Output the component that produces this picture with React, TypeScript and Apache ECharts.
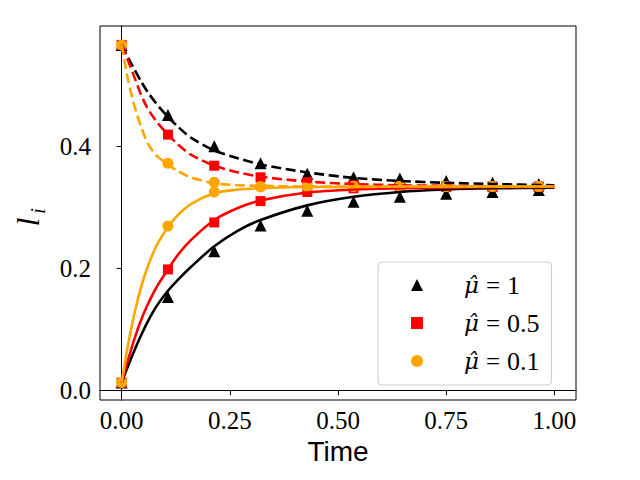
import React, { useEffect, useRef } from "react";
import * as echarts from "echarts";

const markerT = [0, 0.107, 0.214, 0.321, 0.429, 0.536, 0.643, 0.75, 0.857, 0.964];
const blackRiseMarkers = [0.0125, 0.153, 0.228, 0.27, 0.294, 0.309, 0.317, 0.322, 0.325, 0.328];
const blackDecayMarkers = [0.566, 0.451, 0.4, 0.372, 0.355, 0.349, 0.347, 0.343, 0.34, 0.338];
const redRiseMarkers = [0.0125, 0.198, 0.275, 0.31, 0.325, 0.331, 0.332, 0.333, 0.333, 0.333];
const redDecayMarkers = [0.566, 0.419, 0.368, 0.349, 0.341, 0.336, 0.335, 0.334, 0.334, 0.334];
const orangeRiseMarkers = [0.0125, 0.269, 0.325, 0.333, 0.334, 0.334, 0.334, 0.334, 0.334, 0.334];
const orangeDecayMarkers = [0.566, 0.372, 0.341, 0.334, 0.334, 0.334, 0.334, 0.334, 0.334, 0.334];

const curveT = [0, 0.015, 0.03, 0.045, 0.06, 0.08, 0.107, 0.13, 0.16, 0.214, 0.27, 0.321, 0.429, 0.536, 0.643, 0.75, 0.857, 1.0];
const blackRiseCurve = [0.0125, 0.04, 0.066, 0.09, 0.112, 0.137, 0.163, 0.181, 0.202, 0.236, 0.262, 0.279, 0.303, 0.317, 0.325, 0.329, 0.331, 0.332];
const blackDecayCurve = [0.566, 0.545, 0.525, 0.506, 0.489, 0.47, 0.448, 0.432, 0.414, 0.393, 0.38, 0.37, 0.357, 0.348, 0.343, 0.34, 0.338, 0.336];
const redRiseCurve = [0.0125, 0.05, 0.085, 0.115, 0.14, 0.168, 0.198, 0.222, 0.246, 0.279, 0.299, 0.311, 0.324, 0.329, 0.331, 0.332, 0.333, 0.333];
const redDecayCurve = [0.566, 0.54, 0.512, 0.484, 0.462, 0.441, 0.419, 0.403, 0.386, 0.368, 0.357, 0.35, 0.342, 0.338, 0.336, 0.335, 0.334, 0.334];
const orangeRiseCurve = [0.0125, 0.075, 0.127, 0.169, 0.202, 0.236, 0.267, 0.287, 0.305, 0.323, 0.329, 0.331, 0.333, 0.333, 0.334, 0.334, 0.334, 0.334];
const orangeDecayCurve = [0.566, 0.508, 0.465, 0.432, 0.405, 0.385, 0.37, 0.359, 0.349, 0.339, 0.336, 0.335, 0.334, 0.334, 0.334, 0.334, 0.334, 0.334];

const xTicks = [0, 0.25, 0.5, 0.75, 1.0];
const yTicks = [0, 0.2, 0.4];
const muNames = ["mu1", "mu05", "mu01"];
const muLabels = ["1", "0.5", "0.1"];
const xLabel = "Time";

const SERIF = "'Liberation Serif', 'DejaVu Serif', serif";
const SANS = "'Liberation Sans', 'DejaVu Sans', sans-serif";

function pairs(t: number[], v: number[]) {
  return t.map((x, i) => [x, v[i]]);
}

export default function App() {
  const ref = useRef<HTMLDivElement>(null);
  useEffect(() => {
    if (!ref.current) return;
    const chart = echarts.init(ref.current, undefined, { renderer: "svg" });
    const groups = [
      { color: "#000000", symbol: "triangle", size: 12, name: muNames[0], rise: blackRiseCurve, decay: blackDecayCurve, rm: blackRiseMarkers, dm: blackDecayMarkers },
      { color: "#ff0000", symbol: "rect", size: 10, name: muNames[1], rise: redRiseCurve, decay: redDecayCurve, rm: redRiseMarkers, dm: redDecayMarkers },
      { color: "#ffa500", symbol: "circle", size: 11, name: muNames[2], rise: orangeRiseCurve, decay: orangeDecayCurve, rm: orangeRiseMarkers, dm: orangeDecayMarkers },
    ];
    const series: any[] = [];
    groups.forEach((g) => {
      series.push({
        type: "line", name: g.name + "_rise", data: pairs(curveT, g.rise), smooth: 0.25,
        showSymbol: false, lineStyle: { color: g.color, width: 2.6 }, silent: true,
      });
      series.push({
        type: "line", name: g.name + "_decay", data: pairs(curveT, g.decay), smooth: 0.25,
        showSymbol: false, lineStyle: { color: g.color, width: 2.6, type: [10, 4.5] }, silent: true,
      });
      series.push({
        type: "scatter", name: g.name, data: pairs(markerT, g.rm), symbol: g.symbol,
        symbolSize: g.size, itemStyle: { color: g.color, opacity: 1 },
      });
      series.push({
        type: "scatter", name: g.name, data: pairs(markerT, g.dm), symbol: g.symbol,
        symbolSize: g.size, itemStyle: { color: g.color, opacity: 1 },
      });
    });
    chart.setOption({
      animation: false,
      grid: { left: 100, right: 64, top: 26, bottom: 80, show: true, borderColor: "#000", borderWidth: 1, backgroundColor: "transparent" },
      xAxis: {
        type: "value", min: -0.05, max: 1.05,
        name: xLabel, nameLocation: "middle", nameGap: 36,
        nameTextStyle: { fontFamily: SANS, fontSize: 28, color: "#000" },
        axisLine: { show: true, lineStyle: { color: "#000", width: 1 } },
        axisTick: { show: true, inside: false, length: 5, customValues: xTicks, lineStyle: { color: "#000", width: 1 } },
        axisLabel: { customValues: xTicks, margin: 8, fontFamily: SERIF, fontSize: 25, color: "#000", formatter: (v: number) => v.toFixed(2) },
        splitLine: { show: false },
      },
      yAxis: {
        type: "value", min: -0.016, max: 0.597,
        axisLine: { show: true, lineStyle: { color: "#000", width: 1 } },
        axisTick: { show: true, inside: false, length: 5, customValues: yTicks, lineStyle: { color: "#000", width: 1 } },
        axisLabel: { customValues: yTicks, margin: 9, fontFamily: SERIF, fontSize: 25, color: "#000", formatter: (v: number) => v.toFixed(1) },
        splitLine: { show: false },
      },
      legend: {
        orient: "vertical", left: 378, top: 262,
        data: [
          { name: muNames[0], icon: "triangle" },
          { name: muNames[1], icon: "rect" },
          { name: muNames[2], icon: "circle" },
        ],
        itemWidth: 12, itemHeight: 12, itemGap: 8,
        padding: [8, 12, 9, 33],
        backgroundColor: "rgba(255,255,255,0.8)",
        borderColor: "#cccccc", borderWidth: 1, borderRadius: 4,
        selectedMode: false,
        formatter: (name: string) => {
          const i = muNames.indexOf(name);
          return "{g| }{m|\u03BC\u0302}{e|=}{v|" + muLabels[i] + "}";
        },
        textStyle: {
          fontFamily: SERIF, fontSize: 25, lineHeight: 30, color: "#000",
          rich: {
            g: { width: 36 },
            m: { fontFamily: "'DejaVu Serif', serif", fontSize: 23, fontStyle: "italic", color: "#000" },
            e: { fontFamily: SERIF, fontSize: 25, color: "#000", padding: [0, 7, 0, 7] },
            v: { fontFamily: SERIF, fontSize: 26, color: "#000" },
          },
        },
      },
      graphic: [
        {
          type: "group", x: 31, y: 218, rotation: Math.PI / 2,
          children: [
            { type: "text", x: -4, y: -3, style: { text: "l", fontFamily: SERIF, fontStyle: "italic", fontSize: 32, fill: "#000", textAlign: "center", textVerticalAlign: "middle" } },
            { type: "text", x: 7, y: 7, style: { text: "i", fontFamily: SERIF, fontStyle: "italic", fontSize: 20, fill: "#000", textAlign: "center", textVerticalAlign: "middle" } },
          ],
        },
      ],
      series,
    });
    return () => chart.dispose();
  }, []);
  return <div ref={ref} style={{ width: 640, height: 480, margin: -8 }} />;
}
